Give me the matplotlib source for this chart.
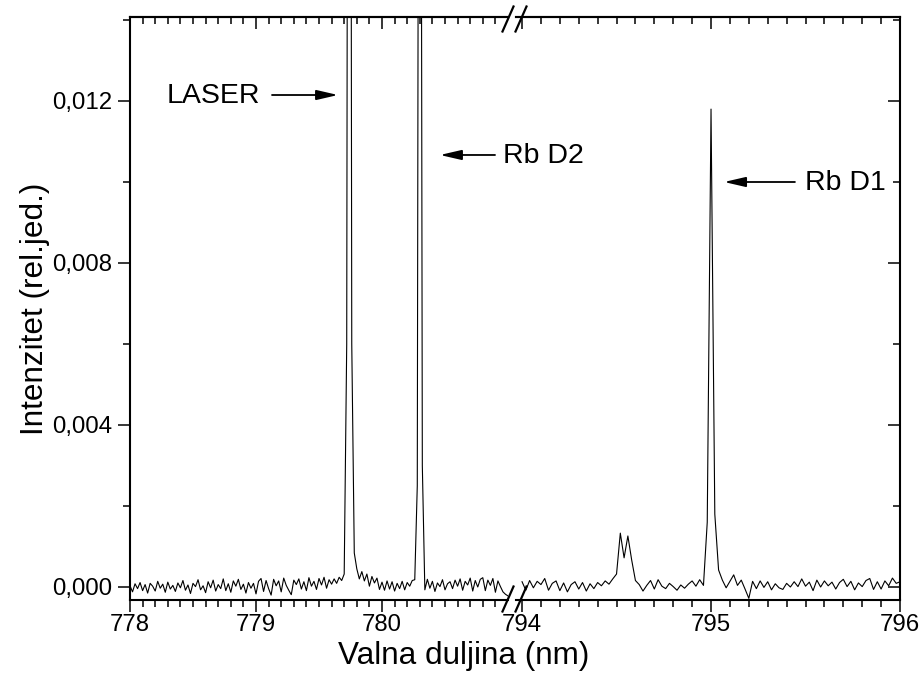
import numpy as np
import matplotlib
matplotlib.use('Agg')
import matplotlib.pyplot as plt
from matplotlib.ticker import FixedLocator, FuncFormatter
from matplotlib.lines import Line2D

plt.rcParams['font.family'] = ['Liberation Sans', 'DejaVu Sans']
plt.rcParams['axes.linewidth'] = 1.5

# ---------------- Spectrum (intensity in units of 1e-4) ----------------
# left window starts at 778.00 nm, right window at 794.00 nm, both 0.02 nm step
STEP = 0.02
LEFT_START, RIGHT_START = 778.0, 794.0

left_int = [
    0.3, -1.2, 0.8, -0.4, 1.1, -0.9, 0.6, -1.5, 0.9, 0.2,
    -1.0, 1.4, -0.3, 0.7, -1.3, 1.2, -0.5, 0.4, -1.1, 1.0,
    -0.2, 1.6, -0.8, 0.5, -1.6, 0.9, 0.1, 1.8, -0.7, 0.3,
    -1.4, 1.3, -0.2, 1.7, -1.0, 0.6, -0.4, 2.0, -0.9, 0.8,
    -1.3, 1.5, 0.2, 1.9, -0.6, 0.7, -1.5, 1.1, -0.3, 0.9,
    -1.7, 1.4, 2.1, -1.1, 1.6, -0.4, -2.0, 1.9, 0.3, 1.5,
    -1.2, 2.2, 0.4, -0.8, -1.9, 1.7, 0.6, 2.0, -0.5, 1.3,
    -0.9, 2.3, 0.2, 1.4, -0.6, 2.1, 0.5, 2.4, -0.3, 1.8,
    # laser line
    0.7, 2.0, 0.9, 2.4, 1.6, 3.2, 60.0, 500.0, 60.0, 8.4,
    4.5, 2.0, 3.8, 1.5, 3.2, 0.2, 2.6, 1.0, 2.2, -0.6,
    1.2, -0.8, 1.5, -0.5, 1.3, -1.0, 0.9, -0.4, 1.4, -0.7,
    1.1, 0.2, 1.6,
    # Rb D2
    1.8, 25.0, 400.0, 30.0, -0.7,
    1.9, -0.3, 1.4, -1.1, 1.0, 0.1, 1.8, -0.7, 0.8, 1.3,
    -0.4, 1.7, 0.2, 2.0, -0.8, 1.4, 0.5, 2.2, -1.0, 1.6,
    0.0, 1.9, 2.3, -0.9, 1.7, 0.4, 2.1, -1.3, 1.5, 0.1,
    -1.2, -1.8, -2.2,
]

right_int = [
    1.3, -0.8, 1.6, -0.2, 1.4, 0.6, 2.1, -0.8, 0.9, 1.5,
    -0.9, 1.0, -1.2, 0.6, 1.3, -0.5, 1.1, -1.0, 0.8, -0.4,
    1.1, 0.3, 1.5, 0.7, 2.0,
    # weak doublet
    3.2, 13.3, 7.2, 12.6, 6.7,
    1.6, 0.6, -1.0, 0.4, 1.6, -0.5, 1.8, 0.2, -0.4, 0.9,
    0.1, -0.8, 0.5, -0.3, 0.7, 1.5, 0.2, 1.8, 0.4,
    # Rb D1
    16.0, 118.0, 18.0, 4.2, 1.7, -0.2,
    1.4, 3.0, 0.4, 1.7, -0.5, -2.8, 1.4, -0.4, 1.5, -0.1,
    1.3, -0.7, 0.8, -0.2, -0.6, 0.9, 0.0, 1.3, 0.1, 2.0,
    0.2, 1.2, -0.9, 1.7, 0.0, 1.5, 0.3, 1.2, -0.5, 1.1,
    1.9, 0.1, 1.4, -0.7, 1.0, 0.1, 1.6, 2.1, -0.6, 1.3,
    -0.5, 1.5, 0.3, 2.2, 0.9, 1.3,
]

left_wl = LEFT_START + STEP * np.arange(len(left_int))
right_wl = RIGHT_START + STEP * np.arange(len(right_int))
left_y = np.array(left_int) * 1e-4
right_y = np.array(right_int) * 1e-4

# ---------------- Figure / broken x axis ----------------
W, H = 921, 690
fig = plt.figure(figsize=(W / 100, H / 100), dpi=100)
ax1 = fig.add_axes([130 / W, 90 / H, (508 - 130) / W, 583 / H])
ax2 = fig.add_axes([516 / W, 90 / H, (900 - 516) / W, 583 / H])
ax2.set_facecolor('none')

YLIM = (-0.000321, 0.014074)
ax1.set_xlim(778.0, 781.0)
ax2.set_xlim(793.968, 796.0)
for ax in (ax1, ax2):
    ax.set_ylim(*YLIM)

ax1.plot(left_wl, left_y, color='k', lw=0.8)
ax2.plot(right_wl, right_y, color='k', lw=0.8)

ax1.spines['right'].set_visible(False)
ax2.spines['left'].set_visible(False)

TICK_FS = 17.3
MAJ, MIN = 8.5, 5.0
comma_fmt = FuncFormatter(lambda v, p: f"{v:.3f}".replace('.', ','))

left_major = [778, 779, 780]
left_minor = [778 + 0.1 * k for k in range(1, 30) if k % 10]
right_major = [794, 795, 796]
right_minor = [794 + 0.1 * k for k in range(1, 20) if k % 10]
y_major = [0.0, 0.004, 0.008, 0.012]
y_minor = [0.002, 0.006, 0.010, 0.014]

for ax, maj, mn in ((ax1, left_major, left_minor), (ax2, right_major, right_minor)):
    ax.xaxis.set_major_locator(FixedLocator(maj))
    ax.xaxis.set_minor_locator(FixedLocator(mn))
    ax.tick_params(axis='x', which='both', direction='out', top=False,
                   labelsize=TICK_FS, pad=1.5, width=1.1)
    ax.tick_params(axis='x', which='major', length=MAJ)
    ax.tick_params(axis='x', which='minor', length=MIN)
    ax.yaxis.set_major_locator(FixedLocator(y_major))
    ax.yaxis.set_minor_locator(FixedLocator(y_minor))
    ax.xaxis.set_major_formatter(FuncFormatter(lambda v, p: f"{v:.0f}"))

    # top ticks point inward
    top = ax.secondary_xaxis('top')
    top.xaxis.set_major_locator(FixedLocator(maj))
    top.xaxis.set_minor_locator(FixedLocator(mn))
    top.tick_params(which='both', direction='in', labeltop=False, width=1.1)
    top.tick_params(which='major', length=MAJ)
    top.tick_params(which='minor', length=MIN)

ax1.yaxis.set_major_formatter(comma_fmt)
ax1.tick_params(axis='y', which='both', direction='out', left=True, right=False,
                labelsize=TICK_FS, pad=4.3, width=1.1)
ax1.tick_params(axis='y', which='major', length=MAJ)
ax1.tick_params(axis='y', which='minor', length=MIN)

ax2.yaxis.set_ticks_position('right')
ax2.tick_params(axis='y', which='both', direction='in', left=False, right=True,
                labelleft=False, labelright=False, width=1.1)
ax2.tick_params(axis='y', which='major', length=MAJ)
ax2.tick_params(axis='y', which='minor', length=MIN)

# break marks
for yc in (19, 599):
    for xc in (508, 521):
        fig.add_artist(Line2D([(xc - 5.5) / W, (xc + 5.5) / W],
                              [(H - yc - 12.5) / H, (H - yc + 12.5) / H],
                              color='k', lw=1.6, transform=fig.transFigure))

# ---------------- Labels ----------------
ax1.set_ylabel('Intenzitet (rel.jed.)', fontsize=22.7)
ax1.yaxis.set_label_coords((50 - 130) / 378, 0.5)
ax1.set_xlabel('Valna duljina (nm)', fontsize=22.7)
ax1.xaxis.label.set_va('baseline')
ax1.xaxis.set_label_coords((464 - 130) / 378, (600 - 664) / 583)

# ---------------- Line markers ----------------
ANN_FS = 20.5
arrow = dict(arrowstyle='-|>,head_length=0.65,head_width=0.15', color='k',
             lw=1.3, mutation_scale=20, shrinkA=0, shrinkB=0)

ax1.annotate('', xy=(779.651, 0.012148), xytext=(779.127, 0.012148), arrowprops=arrow)
ax1.text(779.03, 0.012123, 'LASER', fontsize=ANN_FS, ha='right', va='center')

ax1.annotate('', xy=(780.46, 0.010667), xytext=(780.897, 0.010667), arrowprops=arrow)
ax1.text(780.96, 0.010642, 'Rb D2', fontsize=ANN_FS, ha='left', va='center', clip_on=False)

ax2.annotate('', xy=(795.069, 0.0100), xytext=(795.444, 0.0100), arrowprops=arrow)
ax2.text(795.497, 0.009975, 'Rb D1', fontsize=ANN_FS, ha='left', va='center')

fig.savefig('out.png', dpi=100)
